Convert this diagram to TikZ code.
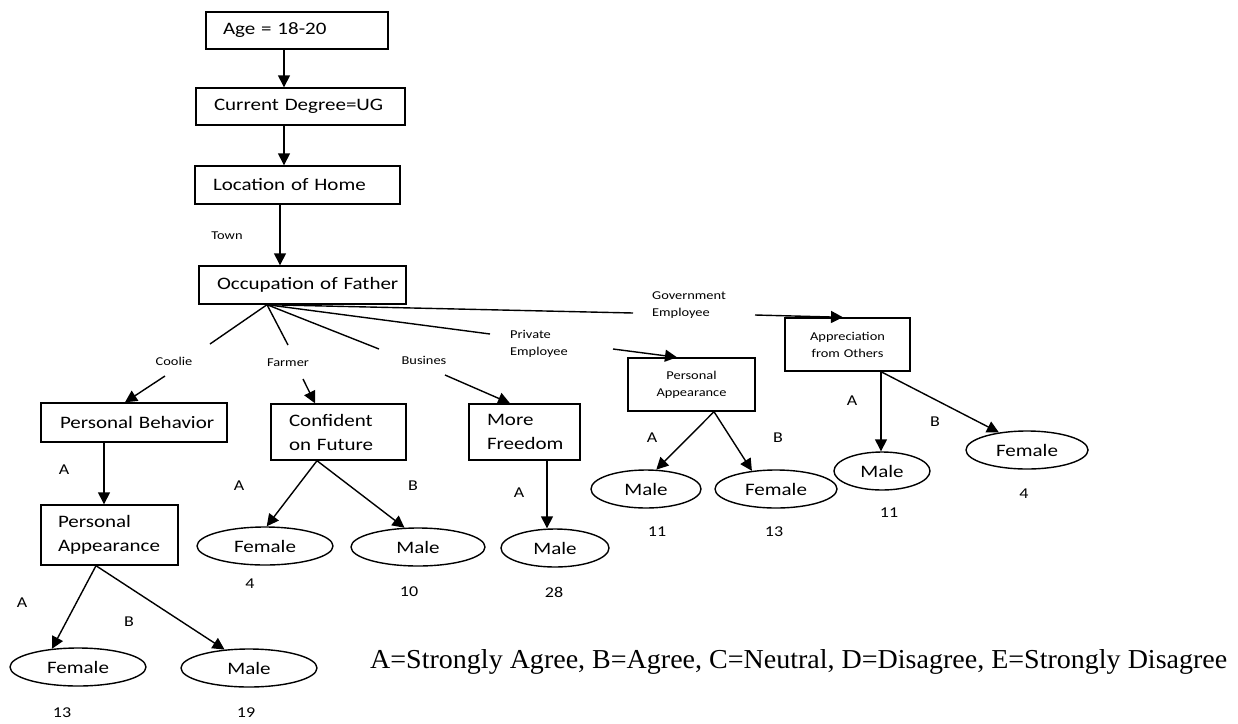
\documentclass[tikz,border=0pt]{standalone}
\usepackage{fontspec}
\usepackage{graphicx}
\setmainfont{Carlito}[FakeStretch=1.2]
\newfontfamily\tnrfont{Liberation Serif}
\usetikzlibrary{arrows.meta,shapes.geometric}
\tikzset{
  lw/.style={line width=1.4pt},
  bx/.style={draw, lw, rectangle, inner ysep=0pt, font=\fontsize{17.5}{24}\selectfont},
  ell/.style={draw, lw, ellipse, inner sep=0pt, minimum height=38pt, font=\fontsize{17.5}{20}\selectfont},
  arr/.style={lw, -{Triangle[length=12pt,width=12pt]}},
  sm/.style={font=\fontsize{12}{17.5}\selectfont, inner sep=0pt},
  lbl/.style={font=\fontsize{15}{18}\selectfont, inner sep=0pt},
}
\begin{document}
\begin{tikzpicture}[x=1pt,y=-1pt]
\useasboundingbox (0,0) rectangle (1238,723);
% boxes
\node[bx, minimum width=182pt, minimum height=37pt, inner xsep=17pt, text width=148pt, align=left] (age) at (297,30.5) {\mbox{Age = 18-20}};
\node[bx, minimum width=209pt, minimum height=37pt, inner xsep=18pt, text width=173pt, align=left] (deg) at (300.5,106.5) {\mbox{Current Degree=UG}};
\node[bx, minimum width=205pt, minimum height=38pt, inner xsep=18pt, text width=169pt, align=left] (loc) at (297.5,185) {\mbox{Location of Home}};
\node[bx, minimum width=207pt, minimum height=38pt, inner xsep=18pt, text width=171pt, align=left] (occ) at (302.5,285) {\mbox{Occupation of Father}};
\node[bx, minimum width=186pt, minimum height=39pt, inner xsep=19pt, text width=148pt, align=left] (pb) at (134,422.5) {\mbox{Personal Behavior}};
\node[bx, minimum width=137pt, minimum height=60pt, inner xsep=17pt, text width=103pt, align=left] (pa1) at (109.5,535) {\mbox{Personal}\\\mbox{Appearance}};
\node[bx, minimum width=135pt, minimum height=56pt, inner xsep=18pt, text width=99pt, align=left] (cf) at (338.5,432) {\mbox{Confident}\\\mbox{on Future}};
\node[bx, minimum width=111pt, minimum height=56pt, inner xsep=18pt, text width=75pt, align=left] (mf) at (524.5,432) {\mbox{More}\\\mbox{Freedom}};
\node[bx, minimum width=127pt, minimum height=53pt, inner xsep=5pt, text width=117pt, align=center, font=\fontsize{12}{17}\selectfont] (pa2) at (691.5,384.5) {Personal\\Appearance};
\node[bx, minimum width=125pt, minimum height=53pt, inner xsep=5pt, text width=115pt, align=center, font=\fontsize{12}{17}\selectfont] (ap) at (847.5,344.5) {Appreciation\\from Others};
% ellipses
\node[ell, minimum width=136pt] (f1) at (78,667) {Female};
\node[ell, minimum width=136pt] (m1) at (249,668) {Male};
\node[ell, minimum width=136pt] (f2) at (265,546) {Female};
\node[ell, minimum width=134pt] (m2) at (418,547) {Male};
\node[ell, minimum width=108pt] (m3) at (555,548) {Male};
\node[ell, minimum width=110pt] (m4) at (646,489) {Male};
\node[ell, minimum width=122pt] (f4) at (776,489) {Female};
\node[ell, minimum width=96pt] (m5) at (882,471) {Male};
\node[ell, minimum width=122pt] (f5) at (1027,450) {Female};
% branch labels
\node[sm] (town) at (227,236) {Town};
\node[sm] (coolie) at (174,361) {Coolie};
\node[sm] (farmer) at (288,363) {Farmer};
\node[sm] (busines) at (424,360) {Busines};
\node[sm, align=left, anchor=west] (priv) at (510,344) {Private\\Employee};
\node[sm, align=left, anchor=west] (gov) at (652,305) {Government\\Employee};
% A/B labels and counts
\node[lbl] (a1) at (64,470) {A};
\node[lbl] (a2) at (22,603) {A};
\node[lbl] (b2) at (129,622) {B};
\node[lbl] (a3) at (239,486) {A};
\node[lbl] (b3) at (413,486) {B};
\node[lbl] (a4) at (519,493) {A};
\node[lbl] (a5) at (652,438) {A};
\node[lbl] (b5) at (778,438) {B};
\node[lbl] (a6) at (852,401) {A};
\node[lbl] (b6) at (935,422) {B};
\node[lbl] (n1) at (62,713) {13};
\node[lbl] (n2) at (246,713) {19};
\node[lbl] (n3) at (250,584) {4};
\node[lbl] (n4) at (409,592) {10};
\node[lbl] (n5) at (554,592) {28};
\node[lbl] (n6) at (657,532) {11};
\node[lbl] (n7) at (774,532) {13};
\node[lbl] (n8) at (889,513) {11};
\node[lbl] (n9) at (1024,494) {4};
% legend
\node[inner sep=0pt, anchor=base west] (leg) at (370,668) {\resizebox{857pt}{19pt}{\tnrfont A=Strongly Agree, B=Agree, C=Neutral, D=Disagree, E=Strongly Disagree}};
% vertical chain
\draw[arr] (age.south -| 284,0) -- (deg.north -| 284,0);
\draw[arr] (deg.south -| 284,0) -- (loc.north -| 284,0);
\draw[arr] (loc.south -| 280,0) -- (occ.north -| 280,0);
% branches from occupation
\coordinate (o) at (occ.south -| 267,0);
\coordinate (c1) at (210,344);
\coordinate (c2) at (288,345);
\coordinate (c3) at (379,349);
\coordinate (c4) at (490,334);
\coordinate (c5) at (633,313);
\coordinate (d1) at (165,376);
\coordinate (d2) at (303,379);
\coordinate (d3) at (445,375);
\coordinate (d4) at (613,349);
\coordinate (d5) at (755,315);
\draw[lw] (o) -- (c1);
\draw[lw] (o) -- (c2);
\draw[lw] (o) -- (c3);
\draw[lw] (o) -- (c4);
\draw[lw] (o) -- (c5);
\draw[arr] (d1) -- (pb.north -| 125,0);
\draw[arr] (d2) -- (cf.north -| 315,0);
\draw[arr] (d3) -- (mf.north -| 510,0);
\draw[arr] (d4) -- (pa2.north -| 677,0);
\draw[arr] (d5) -- (ap.north -| 843,0);
% lower arrows
\draw[arr] (pb.south -| 104,0) -- (pa1.north -| 104,0);
\draw[arr] (pa1.south -| 96,0) -- (f1.145);
\draw[arr] (pa1.south -| 96,0) -- (m1.143);
\draw[arr] (cf.south -| 317,0) -- (f2.85);
\draw[arr] (cf.south -| 317,0) -- (m2.125);
\draw[arr] (mf.south -| 547,0) -- (m3.north -| 547,0);
\draw[arr] (pa2.south -| 714,0) -- (m4.62);
\draw[arr] (pa2.south -| 714,0) -- (f4.143);
\draw[arr] (ap.south -| 881,0) -- (m5.north -| 881,0);
\draw[arr] (ap.south -| 881,0) -- (f5.148);
\end{tikzpicture}
\end{document}
